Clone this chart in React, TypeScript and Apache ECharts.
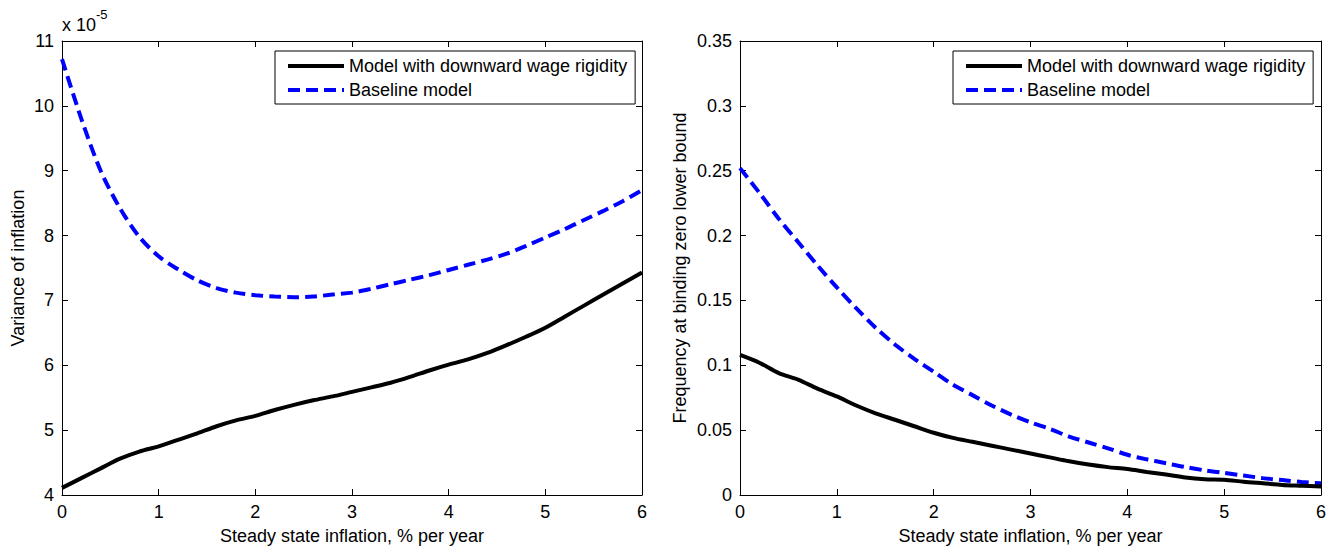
import React, { useEffect, useRef } from "react";
import * as echarts from "echarts";

// Steady state inflation, % per year
const xs = [0, 0.2, 0.4, 0.6, 0.8, 1.0, 1.2, 1.4, 1.6, 1.8, 2.0, 2.2, 2.4, 2.6, 2.8, 3.0, 3.2, 3.4, 3.6, 3.8, 4.0, 4.2, 4.4, 4.6, 4.8, 5.0, 5.2, 5.4, 5.6, 5.8, 6.0];

// Left panel: variance of inflation (x 10^-5)
const varRigid = [4.11, 4.26, 4.41, 4.56, 4.67, 4.75, 4.85, 4.95, 5.06, 5.15, 5.22, 5.31, 5.39, 5.46, 5.52, 5.59, 5.66, 5.73, 5.82, 5.92, 6.01, 6.09, 6.19, 6.31, 6.44, 6.58, 6.75, 6.92, 7.09, 7.26, 7.43];
const varBase = [10.72, 9.8, 9.0, 8.42, 7.98, 7.68, 7.48, 7.31, 7.19, 7.12, 7.08, 7.06, 7.05, 7.06, 7.09, 7.12, 7.18, 7.25, 7.32, 7.39, 7.47, 7.55, 7.63, 7.72, 7.84, 7.97, 8.1, 8.24, 8.38, 8.53, 8.7];

// Right panel: frequency at binding zero lower bound
const zlbRigid = [0.108, 0.102, 0.094, 0.089, 0.082, 0.076, 0.069, 0.063, 0.058, 0.053, 0.048, 0.044, 0.041, 0.038, 0.035, 0.032, 0.029, 0.026, 0.0235, 0.0215, 0.02, 0.0178, 0.0158, 0.0135, 0.0122, 0.0118, 0.0102, 0.009, 0.0078, 0.0072, 0.0066];
const zlbBase = [0.252, 0.233, 0.213, 0.195, 0.177, 0.16, 0.144, 0.129, 0.116, 0.105, 0.095, 0.085, 0.077, 0.069, 0.062, 0.056, 0.051, 0.045, 0.0405, 0.036, 0.031, 0.0275, 0.0245, 0.0215, 0.019, 0.017, 0.015, 0.013, 0.0115, 0.01, 0.009];

const seriesNames = ["Model with downward wage rigidity", "Baseline model"];
const xTitle = "Steady state inflation, % per year";
const yTitles = ["Variance of inflation", "Frequency at binding zero lower bound"];

const FONT = "'Liberation Sans', Arial, Helvetica, sans-serif";

export default function App() {
  const ref = useRef<HTMLDivElement>(null);
  useEffect(() => {
    if (!ref.current) return;
    const chart = echarts.init(ref.current, undefined, { renderer: "svg" });
    const pair = (ys: number[]) => xs.map((x, i) => [x, ys[i]]);
    const axisLine = { show: true, onZero: false, lineStyle: { color: "#000", width: 1 } };
    const tick = { show: true, inside: true, length: 6, lineStyle: { color: "#000", width: 1 } };
    const label = { color: "#000", fontSize: 18, fontFamily: FONT };
    const fmt = (v: number) => String(+v.toFixed(2));

    const xAxisFor = (grid: number) => [
      {
        gridIndex: grid, type: "value", min: 0, max: 6, interval: 1, position: "bottom",
        axisLine, axisTick: tick, splitLine: { show: false },
        axisLabel: { ...label, margin: 8 },
        name: xTitle, nameLocation: "middle", nameGap: 32,
        nameTextStyle: { color: "#000", fontSize: 18, fontFamily: FONT },
      },
      {
        gridIndex: grid, type: "value", min: 0, max: 6, interval: 1, position: "top",
        axisLine, axisTick: tick, splitLine: { show: false }, axisLabel: { show: false },
      },
    ];
    const yAxisFor = (grid: number, min: number, max: number, interval: number, nameGap: number) => [
      {
        gridIndex: grid, type: "value", min, max, interval, position: "left",
        axisLine, axisTick: tick, splitLine: { show: false },
        axisLabel: { ...label, margin: 8, formatter: fmt },
        name: yTitles[grid], nameLocation: "middle", nameGap,
        nameTextStyle: { color: "#000", fontSize: 18, fontFamily: FONT },
      },
      {
        gridIndex: grid, type: "value", min, max, interval, position: "right",
        axisLine, axisTick: tick, splitLine: { show: false }, axisLabel: { show: false },
      },
    ];

    const solid = { color: "#000", width: 4, type: "solid" as const };
    const dashed = { color: "#0000ff", width: 4, type: [12, 6] as any };
    const mk = (name: string, data: number[], xi: number, ls: any) => ({
      type: "line", name, data: pair(data), xAxisIndex: xi, yAxisIndex: xi,
      showSymbol: false, symbol: "none", smooth: 0.3, lineStyle: ls,
      itemStyle: { color: ls.color }, z: name === seriesNames[0] ? 3 : 2,
    });

    const legendFor = (left: number) => ({
      show: true, orient: "vertical", left, top: 51,
      data: seriesNames.map((n) => ({ name: n })),
      backgroundColor: "#fff", borderColor: "#000", borderWidth: 1, borderRadius: 0,
      padding: [6, 8, 5, 11], itemWidth: 56, itemHeight: 14, itemGap: 6,
      itemStyle: { opacity: 0 },
      lineStyle: { width: 4 },
      textStyle: { color: "#000", fontSize: 18, fontFamily: FONT },
      selectedMode: false,
    });

    chart.setOption({
      animation: false,
      backgroundColor: "#fff",
      textStyle: { fontFamily: FONT },
      grid: [
        { left: 62, top: 41, width: 580, height: 456 },
        { left: 740, top: 41, width: 581, height: 456 },
      ],
      xAxis: [...xAxisFor(0), ...xAxisFor(1)],
      yAxis: [...yAxisFor(0, 4, 11, 1, 35), ...yAxisFor(1, 0, 0.35, 0.05, 51)],
      legend: [legendFor(275), legendFor(953)],
      series: [
        mk(seriesNames[0], varRigid, 0, solid),
        mk(seriesNames[1], varBase, 0, dashed),
        mk(seriesNames[0], zlbRigid, 2, solid),
        mk(seriesNames[1], zlbBase, 2, dashed),
      ],
      graphic: [
        {
          type: "text", left: 62, top: 16,
          style: { text: "x 10", fill: "#000", fontSize: 18, fontFamily: FONT },
        },
        {
          type: "text", left: 96, top: 8,
          style: { text: "-5", fill: "#000", fontSize: 13, fontFamily: FONT },
        },
      ],
    });
    return () => chart.dispose();
  }, []);
  return (
    <div
      ref={ref}
      style={{ position: "fixed", left: 0, top: 0, width: 1331, height: 550, background: "#fff" }}
    />
  );
}
